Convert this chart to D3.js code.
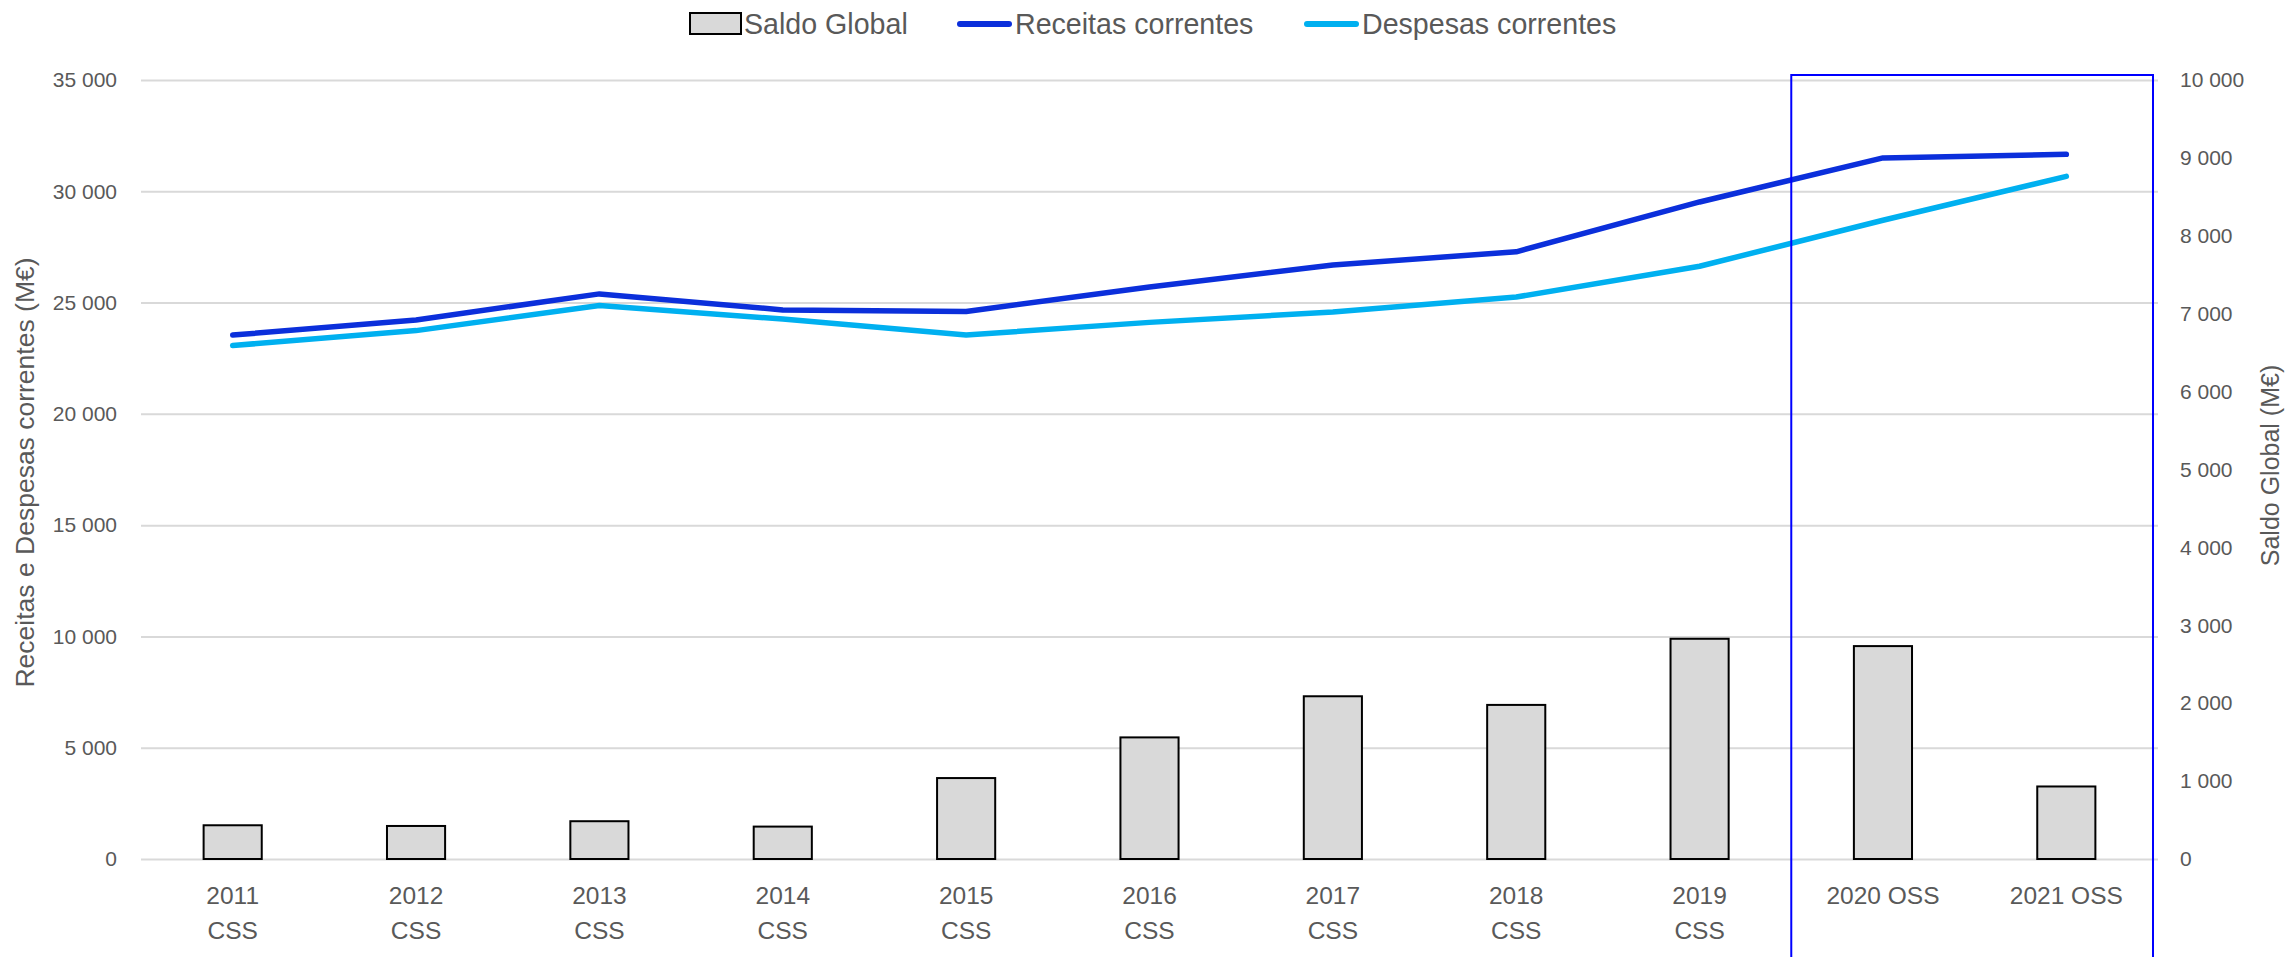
<!DOCTYPE html>
<html>
<head>
<meta charset="utf-8">
<script src="https://cdn.jsdelivr.net/npm/d3@7"></script>
<style>
  body { margin: 0; background: #fff; }
  svg { display: block; }
  .tick text { fill: #595959; }
</style>
</head>
<body>
<svg id="chart" width="2287" height="957"></svg>
<script>
// categories (two label lines each)
var catTop = ["2011", "2012", "2013", "2014", "2015", "2016", "2017", "2018", "2019", "2020 OSS", "2021 OSS"];
var catSub = ["CSS", "CSS", "CSS", "CSS", "CSS", "CSS", "CSS", "CSS", "CSS", "", ""];

// series (M€)
var saldoGlobal = [433, 424, 485, 416, 1039, 1561, 2089, 1978, 2827, 2733, 931];
var receitas = [23540, 24220, 25390, 24670, 24600, 25700, 26690, 27280, 29520, 31500, 31660];
var despesas = [23070, 23740, 24870, 24260, 23540, 24110, 24580, 25250, 26630, 28700, 30670];

// axis ticks
var leftTicks = [0, 5000, 10000, 15000, 20000, 25000, 30000, 35000];
var rightTicks = [0, 1000, 2000, 3000, 4000, 5000, 6000, 7000, 8000, 9000, 10000];

var seriesNames = ["Saldo Global", "Receitas correntes", "Despesas correntes"];
var leftTitle = "Receitas e Despesas correntes (M€)";
var rightTitle = "Saldo Global (M€)";

var W = 2287, H = 957;
var plot = {left: 141, right: 2158, top: 80, bottom: 859};
var textCol = "#595959";
var font = "Liberation Sans, Arial, sans-serif";
var colReceitas = "#0b2fdb", colDespesas = "#00b0f0";

var svg = d3.select("#chart");
var loc = d3.formatLocale({decimal: ",", thousands: " ", grouping: [3], currency: ["", "€"]});
var fmt = loc.format(",d");

var x = d3.scaleBand()
        .domain(catTop)
        .range([plot.left, plot.right])
        .paddingInner(0).paddingOuter(0);

var yL = d3.scaleLinear().domain([0, 35000]).range([plot.bottom, plot.top]);
var yR = d3.scaleLinear().domain([0, 10000]).range([plot.bottom, plot.top]);

// gridlines
svg.append("g")
    .attr("transform", "translate(" + plot.left + ",0)")
    .call(d3.axisLeft(yL).tickValues(leftTicks).tickSize(-(plot.right - plot.left)).tickFormat(""))
    .call(g => g.select(".domain").remove())
    .call(g => g.selectAll("line").attr("stroke", "#d9d9d9").attr("stroke-width", 2));

// left axis labels
svg.append("g")
    .attr("transform", "translate(" + plot.left + ",0)")
    .call(d3.axisLeft(yL).tickValues(leftTicks).tickSize(0).tickPadding(24).tickFormat(fmt))
    .call(g => g.select(".domain").remove())
    .call(g => g.selectAll("text").attr("font-family", font).attr("font-size", 21));

// right axis labels
svg.append("g")
    .attr("transform", "translate(" + plot.right + ",0)")
    .call(d3.axisRight(yR).tickValues(rightTicks).tickSize(0).tickPadding(22).tickFormat(fmt))
    .call(g => g.select(".domain").remove())
    .call(g => g.selectAll("text").attr("font-family", font).attr("font-size", 21));

// bottom axis, two-line labels
var xAxisG = svg.append("g")
    .attr("transform", "translate(0," + plot.bottom + ")")
    .call(d3.axisBottom(x).tickSize(0).tickFormat(""))
    .call(g => g.select(".domain").remove());
xAxisG.selectAll(".tick").each(function(d, i) {
    var t = d3.select(this).append("text")
        .attr("fill", textCol)
        .attr("font-family", font)
        .attr("font-size", 24.5)
        .attr("text-anchor", "middle");
    t.append("tspan").attr("x", 0).attr("y", 45).text(catTop[i]);
    if (catSub[i]) t.append("tspan").attr("x", 0).attr("y", 80).text(catSub[i]);
});

// bars (right axis)
var barW = x.bandwidth() * 0.317;
svg.append("g").selectAll("rect")
    .data(saldoGlobal)
    .join("rect")
    .attr("x", (d, i) => x(catTop[i]) + x.bandwidth() / 2 - barW / 2)
    .attr("y", d => yR(d))
    .attr("width", barW)
    .attr("height", d => yR(0) - yR(d))
    .attr("fill", "#d9d9d9")
    .attr("stroke", "#000")
    .attr("stroke-width", 2);

// lines (left axis)
var line = d3.line()
    .x((d, i) => x(catTop[i]) + x.bandwidth() / 2)
    .y(d => yL(d));

svg.append("path").datum(despesas)
    .attr("d", line).attr("fill", "none")
    .attr("stroke", colDespesas).attr("stroke-width", 5.5)
    .attr("stroke-linecap", "round").attr("stroke-linejoin", "round");

svg.append("path").datum(receitas)
    .attr("d", line).attr("fill", "none")
    .attr("stroke", colReceitas).attr("stroke-width", 5.5)
    .attr("stroke-linecap", "round").attr("stroke-linejoin", "round");

// highlight box round the forecast years
var boxLeft = x("2020 OSS");
svg.append("rect")
    .attr("x", boxLeft)
    .attr("y", plot.top - 5)
    .attr("width", plot.right - 5 - boxLeft)
    .attr("height", H + 10 - plot.top)
    .attr("fill", "none")
    .attr("stroke", "#0000ff")
    .attr("stroke-width", 2);

// axis titles
svg.append("text")
    .attr("transform", "translate(34," + ((plot.top + plot.bottom) / 2 + 3) + ") rotate(-90)")
    .attr("text-anchor", "middle")
    .attr("fill", textCol)
    .attr("font-family", font)
    .attr("font-size", 26.5)
    .text(leftTitle);

svg.append("text")
    .attr("transform", "translate(2279," + ((plot.top + plot.bottom) / 2 - 4) + ") rotate(-90)")
    .attr("text-anchor", "middle")
    .attr("fill", textCol)
    .attr("font-family", font)
    .attr("font-size", 25)
    .text(rightTitle);

// legend
var legend = svg.append("g")
    .attr("font-family", font)
    .attr("font-size", 28.6)
    .attr("fill", textCol);
var legX = [690, 957, 1304];
legend.append("rect")
    .attr("x", legX[0]).attr("y", 13).attr("width", 51).attr("height", 21)
    .attr("fill", "#d9d9d9").attr("stroke", "#000").attr("stroke-width", 2);
[colReceitas, colDespesas].forEach(function(c, i) {
    legend.append("line")
        .attr("x1", legX[i + 1] + 3).attr("x2", legX[i + 1] + 52)
        .attr("y1", 24).attr("y2", 24)
        .attr("stroke", c).attr("stroke-width", 6).attr("stroke-linecap", "round");
});
seriesNames.forEach(function(n, i) {
    legend.append("text")
        .attr("x", legX[i] + (i === 0 ? 54 : 58))
        .attr("y", 34)
        .text(n);
});
</script>
</body>
</html>
